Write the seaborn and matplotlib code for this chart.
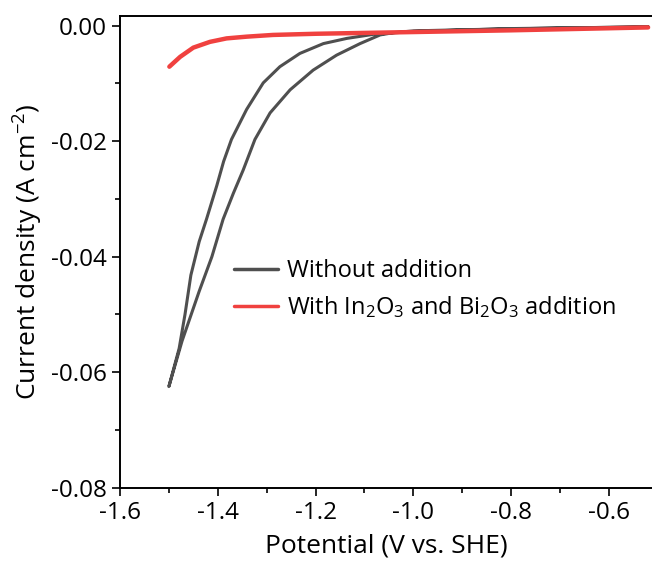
import numpy as np
import pandas as pd
import matplotlib
matplotlib.use("Agg")
import matplotlib.pyplot as plt
import seaborn as sns
from matplotlib.ticker import MultipleLocator

# Potential (V vs. SHE) and current density (A cm^-2)
# Without addition: cathodic sweep then return sweep (CV loop)
pot_plain = [-0.52, -0.70, -0.90, -1.00, -1.040, -1.068, -1.109, -1.157, -1.205, -1.252,
             -1.293, -1.324, -1.348, -1.368, -1.389, -1.412, -1.438, -1.473, -1.500,
             -1.479, -1.467, -1.455, -1.438, -1.423, -1.402, -1.388, -1.372, -1.341,
             -1.307, -1.273, -1.232, -1.184, -1.136, -1.082, -1.00, -0.80, -0.52]
cur_plain = [-0.0002, -0.0004, -0.0007, -0.0009, -0.0012, -0.0016, -0.0031, -0.0051, -0.0077, -0.0111,
             -0.0151, -0.0197, -0.0250, -0.0290, -0.0335, -0.0400, -0.0460, -0.0546, -0.0625,
             -0.0559, -0.0500, -0.0432, -0.0374, -0.0335, -0.0277, -0.0235, -0.0197, -0.0145,
             -0.0099, -0.0071, -0.0048, -0.0031, -0.0022, -0.0015, -0.0010, -0.0005, -0.0002]

# With In2O3 and Bi2O3 addition
pot_add = [-0.52, -0.80, -1.00, -1.20, -1.287, -1.341, -1.382, -1.416, -1.450, -1.477, -1.499]
cur_add = [-0.0003, -0.0008, -0.0011, -0.0014, -0.0016, -0.0019, -0.0022, -0.0028, -0.0038, -0.0054, -0.0071]

label_plain = "Without addition"
label_add = "With In$_2$O$_3$ and Bi$_2$O$_3$ addition"

df = pd.concat([
    pd.DataFrame({"pot": pot_plain, "cur": cur_plain, "sample": label_plain}),
    pd.DataFrame({"pot": pot_add, "cur": cur_add, "sample": label_add}),
], ignore_index=True)

sns.set_style("ticks")
plt.rcParams["font.family"] = ["Open Sans", "DejaVu Sans"]
plt.rcParams["mathtext.fontset"] = "custom"
plt.rcParams["mathtext.rm"] = "Open Sans"
plt.rcParams["mathtext.it"] = "Open Sans"
plt.rcParams["text.color"] = "black"
plt.rcParams["axes.labelcolor"] = "black"
plt.rcParams["xtick.color"] = "black"
plt.rcParams["ytick.color"] = "black"

fig = plt.figure(figsize=(6.52, 5.67), dpi=100)
ax = fig.add_axes([0.184, 0.14, 0.816, 0.832])

sns.lineplot(data=df, x="pot", y="cur", hue="sample", sort=False, estimator=None,
             palette={label_plain: "#4f4f4f", label_add: "#f0413f"}, ax=ax)
ax.lines[0].set_linewidth(2.2)
ax.lines[1].set_linewidth(3.2)
for ln in ax.lines[:2]:
    ln.set_solid_joinstyle("round")
    ln.set_solid_capstyle("round")

ax.set_xlim(-1.6, -0.512)
ax.set_ylim(-0.08, 0.0017)
ax.xaxis.set_minor_locator(MultipleLocator(0.1))
ax.yaxis.set_minor_locator(MultipleLocator(0.01))
ax.set_xticks([-1.6, -1.4, -1.2, -1.0, -0.8, -0.6])
ax.set_xticklabels(["-1.6", "-1.4", "-1.2", "-1.0", "-0.8", "-0.6"])
ax.set_yticks([0.0, -0.02, -0.04, -0.06, -0.08])
ax.set_yticklabels(["0.00", "-0.02", "-0.04", "-0.06", "-0.08"])

ax.tick_params(which="major", direction="out", length=6, width=1.2, labelsize=17.5, color="black")
ax.tick_params(which="minor", direction="out", length=3.5, width=1.2, color="black")
for s in ["left", "bottom", "top"]:
    ax.spines[s].set_linewidth(1.4)
    ax.spines[s].set_color("black")
ax.spines["right"].set_visible(False)

ax.set_xlabel("Potential (V vs. SHE)", fontsize=19, labelpad=6)
ax.set_ylabel("Current density (A cm$^{-2}$)", fontsize=19, labelpad=4)

leg = ax.legend(loc="upper left", bbox_to_anchor=(0.175, 0.53), frameon=False,
                fontsize=17, handlelength=1.85, handletextpad=0.4, labelspacing=0.5)
leg.get_lines()[0].set_linewidth(2.5)
leg.get_lines()[1].set_linewidth(2.5)

fig.savefig("out.png", dpi=100)
